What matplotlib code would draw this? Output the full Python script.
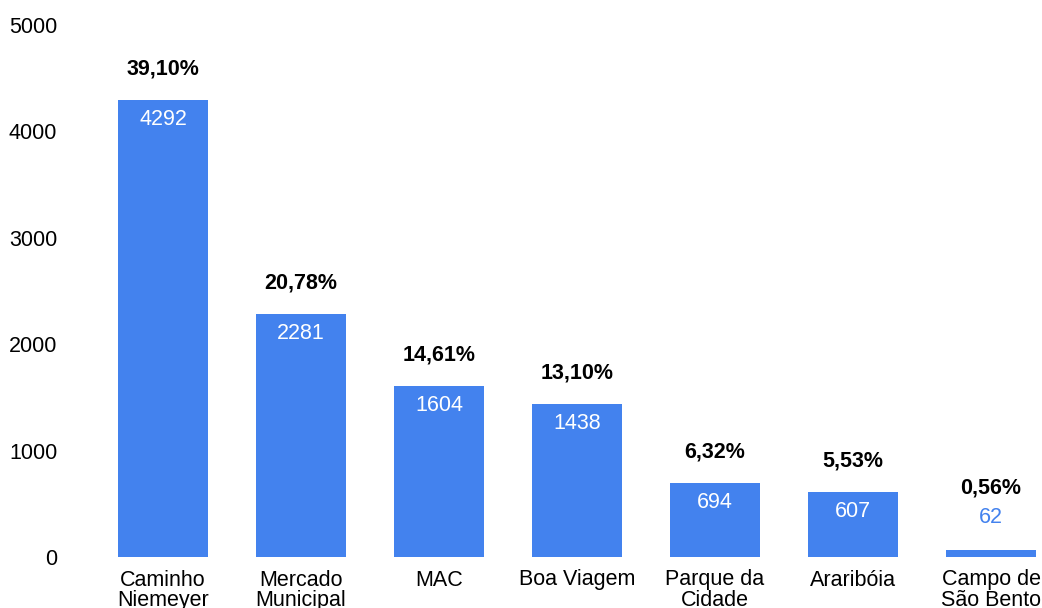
import numpy as np
import matplotlib.pyplot as plt

plt.rcParams['font.family'] = ['Liberation Sans', 'DejaVu Sans']

locais = ['Caminho\nNiemeyer', 'Mercado\nMunicipal', 'MAC', 'Boa Viagem',
          'Parque da\nCidade', 'Araribóia', 'Campo de\nSão Bento']
valores = [4292, 2281, 1604, 1438, 694, 607, 62]
percentuais = ['39,10%', '20,78%', '14,61%', '13,10%', '6,32%', '5,53%', '0,56%']

azul = '#4382ee'

fig = plt.figure(figsize=(10.42, 6.08), dpi=100)
ax = fig.add_axes([94/1042, 51/608, 966/1042, 532/608])

x = np.arange(len(locais))
bars = ax.bar(x, valores, width=0.65, color=azul)

for xi, v, p in zip(x, valores, percentuais):
	if v > 300:
		ax.annotate(str(v), (xi, v), xytext=(0, -14), textcoords='offset points',
			ha='center', va='center', color='white', fontsize=15.5)
		ax.annotate(p, (xi, v), xytext=(0, 22.5), textcoords='offset points',
			ha='center', va='center', color='black', fontsize=15.5, fontweight='bold')
	else:
		ax.annotate(str(v), (xi, v), xytext=(0, 23.5), textcoords='offset points',
			ha='center', va='center', color=azul, fontsize=15.5)
		ax.annotate(p, (xi, v), xytext=(0, 45), textcoords='offset points',
			ha='center', va='center', color='black', fontsize=15.5, fontweight='bold')

ax.set_xlim(-0.5, 6.5)
ax.set_ylim(0, 5000)
ax.set_yticks([0, 1000, 2000, 3000, 4000, 5000])
ax.set_xticks(x)
ax.set_xticklabels(locais, fontsize=15.5, linespacing=0.95)
ax.tick_params(axis='y', labelsize=15.5, length=0, pad=26.5)
ax.tick_params(axis='x', length=0, pad=9)
for s in ax.spines.values():
	s.set_visible(False)

plt.savefig('out.png', dpi=100)
